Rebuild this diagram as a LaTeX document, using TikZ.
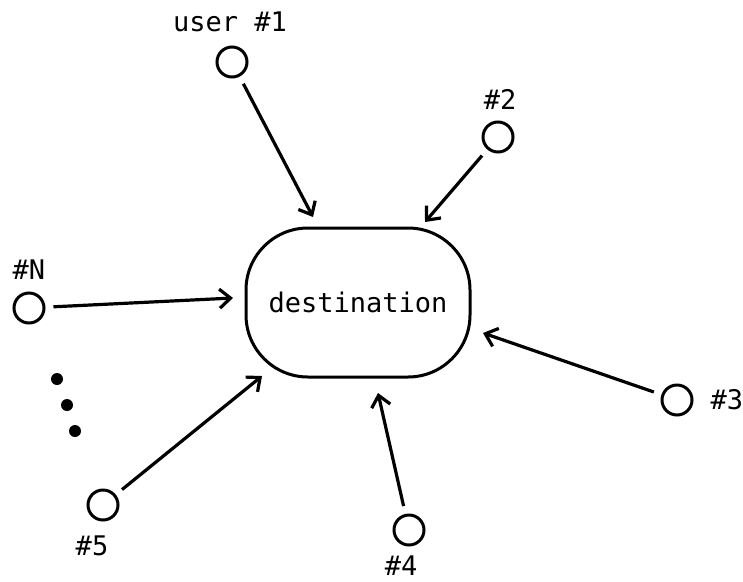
\documentclass[tikz,border=0pt]{standalone}
\usepackage{fontspec}
\setmonofont{DejaVu Sans Mono}
\usetikzlibrary{arrows.meta,positioning}
\tikzset{
    user/.style = {draw, circle, line width=3pt,
        minimum size=30pt, inner sep=0pt},
    dest/.style = {draw, rectangle, rounded corners=62pt, line width=3pt,
        minimum width=224pt, minimum height=149pt, align=center},
    lbl/.style = {inner sep=0pt},
    arrow/.style = {draw, line width=3.2pt, shorten <=8pt,
        -{Straight Barb[length=11pt,width=19pt,line width=3.2pt]}},
    dot/.style = {fill, circle, minimum size=12pt, inner sep=0pt}
}

\begin{document}
\begin{tikzpicture}[x=1pt, y=-1pt, font=\ttfamily\fontsize{27}{31}\selectfont]
        \useasboundingbox (0,0) rectangle (743,581);
        \node [dest] (dest) at (358,302.5) {destination};
        \node [user] (u1) at (232,62) {};
        \node [user] (u2) at (498,137) {};
        \node [user] (u3) at (677,400) {};
        \node [user] (u4) at (409,530) {};
        \node [user] (u5) at (103,505) {};
        \node [user] (uN) at (29,308) {};
        \node [lbl] (l1) at (230,22) {user \#1};
        \node [lbl] (l2) at (500,99) {\#2};
        \node [lbl, right=17pt of u3] (l3) {\#3};
        \node [lbl] (l4) at (401,566) {\#4};
        \node [lbl] (l5) at (92,546) {\#5};
        \node [lbl] (lN) at (29,270) {\#N};
        \coordinate (t1) at (313,217);
        \coordinate (t2) at (425,222);
        \coordinate (t3) at (483,333);
        \coordinate (t4) at (378,393);
        \coordinate (t5) at (262,376);
        \coordinate (tN) at (233,298);
        \foreach \i in {1,2,3,4,5,N}
            \draw [arrow] (u\i) -- (t\i);
        \node [dot] (d1) at (57,379) {};
        \node [dot] (d2) at (67,405) {};
        \node [dot] (d3) at (75,431) {};
\end{tikzpicture}
\end{document}
